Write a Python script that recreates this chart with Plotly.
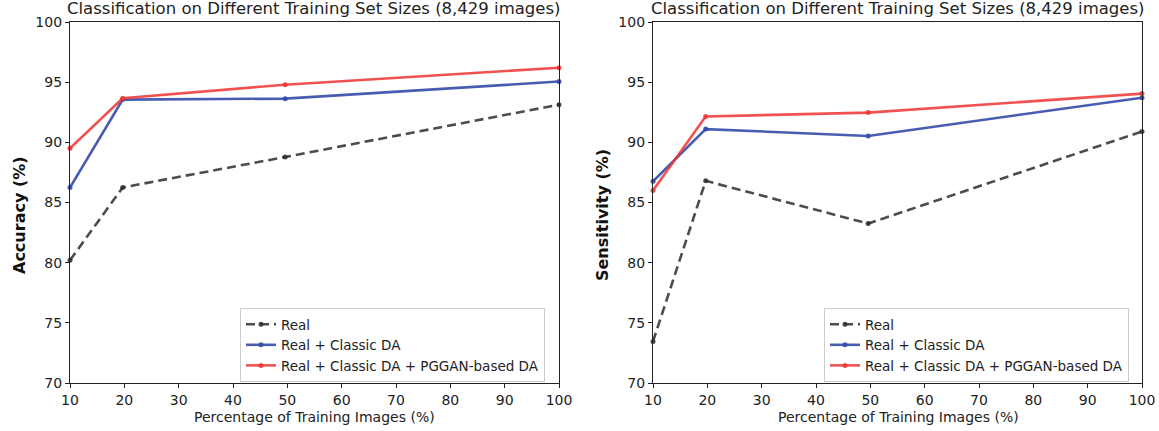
import plotly.graph_objects as go

# ---- data ----
x_pct = [10, 19.7, 49.6, 100]
series_names = ["Real", "Real + Classic DA", "Real + Classic DA + PGGAN-based DA"]
acc_real = [80.2, 86.25, 88.78, 93.13]
acc_classic = [86.25, 93.55, 93.63, 95.05]
acc_pggan = [89.5, 93.66, 94.79, 96.2]
sens_real = [73.45, 86.8, 83.25, 90.9]
sens_classic = [86.76, 91.1, 90.53, 93.71]
sens_pggan = [86.0, 92.15, 92.47, 94.05]
x_ticks = [10, 20, 30, 40, 50, 60, 70, 80, 90, 100]
y_ticks = [70, 75, 80, 85, 90, 95, 100]
title_text = "Classification on Different Training Set Sizes (8,429 images)"
x_title = "Percentage of Training Images (%)"
y_titles = ["Accuracy (%)", "Sensitivity (%)"]

colors = ["rgba(45,45,45,0.85)", "rgba(52,75,170,0.9)", "rgba(240,50,50,0.85)"]
dashes = ["9px,5px", "solid", "solid"]

W, H = 1159, 431
FONT = "DejaVu Sans"

fig = go.Figure()

panels = [
    ([acc_real, acc_classic, acc_pggan], "x", "y", "legend"),
    ([sens_real, sens_classic, sens_pggan], "x2", "y2", "legend2"),
]
for vals, xa, ya, lg in panels:
    for name, v, c, d in zip(series_names, vals, colors, dashes):
        fig.add_trace(go.Scatter(
            x=x_pct, y=v, name=name, mode="lines+markers",
            line=dict(color=c, width=2.6, dash=d),
            marker=dict(color=c, size=5),
            xaxis=xa, yaxis=ya, legend=lg, cliponaxis=False,
        ))

def px_x(p):
    return p / W

def px_y(p):
    return 1 - p / H

ydom = [px_y(383), px_y(22)]
xdoms = [[px_x(70), px_x(559)], [px_x(653), px_x(1142)]]

axis_common = dict(
    showline=True, linecolor="#222", linewidth=1.2, mirror=True, automargin=False,
    ticks="outside", ticklen=4, tickcolor="#222", showgrid=False, zeroline=False,
    tickfont=dict(family=FONT, size=14, color="#222"),
)

legend_common = dict(
    xanchor="left", yanchor="top",
    bgcolor="rgba(255,255,255,0.9)", bordercolor="#ccc", borderwidth=1,
    font=dict(family=FONT, size=13.5, color="#222"), tracegroupgap=0,
    itemwidth=30,
)

fig.update_layout(
    width=W, height=H,
    margin=dict(l=0, r=0, t=0, b=0, autoexpand=False),
    paper_bgcolor="white", plot_bgcolor="white",
    font=dict(family=FONT, color="#222"),
    xaxis=dict(domain=xdoms[0], range=[10, 100], tickvals=x_ticks, anchor="y", **axis_common),
    yaxis=dict(domain=ydom, range=[70, 100], tickvals=y_ticks, anchor="x", **axis_common),
    xaxis2=dict(domain=xdoms[1], range=[10, 100], tickvals=x_ticks, anchor="y2", **axis_common),
    yaxis2=dict(domain=ydom, range=[70, 100], tickvals=y_ticks, anchor="x2", **axis_common),
    legend=dict(x=px_x(240), y=px_y(308), **legend_common),
    legend2=dict(x=px_x(824), y=px_y(308), **legend_common),
    showlegend=True,
)

annotations = []
for i, cx in enumerate([314, 898]):
    annotations.append(dict(
        text=title_text, x=px_x(cx), y=px_y(9), xref="paper", yref="paper",
        showarrow=False, xanchor="center", yanchor="middle",
        font=dict(family=FONT, size=16.5, color="#222")))
    annotations.append(dict(
        text=x_title, x=px_x(cx), y=px_y(417), xref="paper", yref="paper",
        showarrow=False, xanchor="center", yanchor="middle",
        font=dict(family=FONT, size=14, color="#222")))
for i, (cx, t) in enumerate(zip([19, 602], y_titles)):
    annotations.append(dict(
        text="<b>" + t + "</b>", x=px_x(cx), y=px_y(215), xref="paper", yref="paper",
        showarrow=False, xanchor="center", yanchor="middle", textangle=-90,
        font=dict(family=FONT, size=16, color="#111")))
fig.update_layout(annotations=annotations)

fig.write_html(
    "out.html",
    config={"displayModeBar": False},
    post_script="document.body.style.margin='0';document.body.style.padding='0';",
)
